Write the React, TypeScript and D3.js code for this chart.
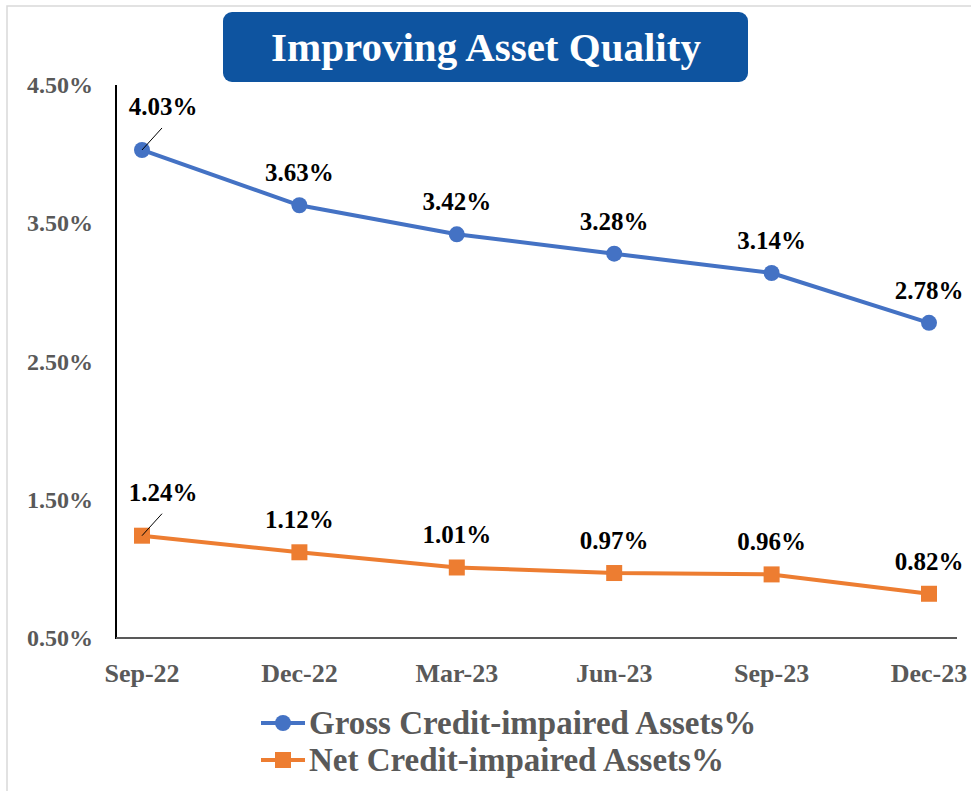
import * as d3 from 'd3';

const categories = ['Sep-22', 'Dec-22', 'Mar-23', 'Jun-23', 'Sep-23', 'Dec-23'];
const grossValues = [4.03, 3.63, 3.42, 3.28, 3.14, 2.78];
const netValues = [1.24, 1.12, 1.01, 0.97, 0.96, 0.82];
const yTicks = [0.5, 1.5, 2.5, 3.5, 4.5];
const seriesNames = ['Gross Credit-impaired Assets%', 'Net Credit-impaired Assets%'];

const W = 971;
const H = 791;
const FONT = '"Liberation Serif", "Times New Roman", serif';
const BLUE = '#4472C4';
const ORANGE = '#ED7D31';

export default function App() {
  const x = d3.scalePoint<string>().domain(categories).range([142, 929]);
  const y = d3.scaleLinear().domain([0.5, 4.5]).range([638, 85]);

  const line = d3
    .line<number>()
    .x((_, i) => x(categories[i]) as number)
    .y((d) => y(d));

  const fmt = (v: number) => `${v.toFixed(2)}%`;

  // first point of each series has its label pushed up-right with a leader line
  const label = (v: number, i: number, key: string) => {
    const px = x(categories[i]) as number;
    const py = y(v);
    if (i === 0) {
      return (
        <g key={key}>
          <line x1={px} y1={py} x2={px + 20} y2={py - 22} stroke="#000" strokeWidth={1} />
          <text x={px + 21} y={py - 35} textAnchor="middle" fontSize={25} fontWeight="bold" fill="#000">
            {fmt(v)}
          </text>
        </g>
      );
    }
    return (
      <text key={key} x={px} y={py - 24} textAnchor="middle" fontSize={25} fontWeight="bold" fill="#000">
        {fmt(v)}
      </text>
    );
  };

  return (
    <svg
      width={W}
      height={H}
      style={{ position: 'absolute', left: 0, top: 0, background: '#fff' }}
      fontFamily={FONT}
    >
      <rect x={7} y={6} width={W} height={H} fill="#fff" stroke="#d9d9d9" strokeWidth={1.5} />

      {/* title */}
      <rect x={223} y={12} width={525} height={70} rx={9} fill="#0E54A0" />
      <text x={486} y={61} textAnchor="middle" fontSize={41} fontWeight="bold" fill="#fff">
        Improving Asset Quality
      </text>

      {/* axes */}
      <line x1={116} y1={85} x2={116} y2={639} stroke="#000" strokeWidth={2} />
      <line x1={116} y1={638} x2={957} y2={638} stroke="#595959" strokeWidth={2} />

      {yTicks.map((t) => (
        <text key={t} x={93} y={y(t) + 8} textAnchor="end" fontSize={24} fontWeight="bold" fill="#595959">
          {fmt(t)}
        </text>
      ))}
      {categories.map((c) => (
        <text key={c} x={x(c) as number} y={682} textAnchor="middle" fontSize={26} fontWeight="bold" fill="#595959">
          {c}
        </text>
      ))}

      {/* series */}
      <path d={line(grossValues) ?? ''} fill="none" stroke={BLUE} strokeWidth={4} strokeLinejoin="round" />
      <path d={line(netValues) ?? ''} fill="none" stroke={ORANGE} strokeWidth={4} strokeLinejoin="round" />
      {grossValues.map((v, i) => (
        <circle key={`g${i}`} cx={x(categories[i]) as number} cy={y(v)} r={8} fill={BLUE} />
      ))}
      {netValues.map((v, i) => (
        <rect key={`n${i}`} x={(x(categories[i]) as number) - 8} y={y(v) - 8} width={16} height={16} fill={ORANGE} />
      ))}
      {grossValues.map((v, i) => label(v, i, `gl${i}`))}
      {netValues.map((v, i) => label(v, i, `nl${i}`))}

      {/* legend */}
      <g>
        <line x1={261} y1={723} x2={305} y2={723} stroke={BLUE} strokeWidth={4} />
        <circle cx={283} cy={723} r={8} fill={BLUE} />
        <text x={309} y={734} fontSize={33} fontWeight="bold" fill="#595959">
          {seriesNames[0]}
        </text>
        <line x1={261} y1={760} x2={305} y2={760} stroke={ORANGE} strokeWidth={4} />
        <rect x={275} y={752} width={16} height={16} fill={ORANGE} />
        <text x={309} y={771} fontSize={33} fontWeight="bold" fill="#595959">
          {seriesNames[1]}
        </text>
      </g>
    </svg>
  );
}
